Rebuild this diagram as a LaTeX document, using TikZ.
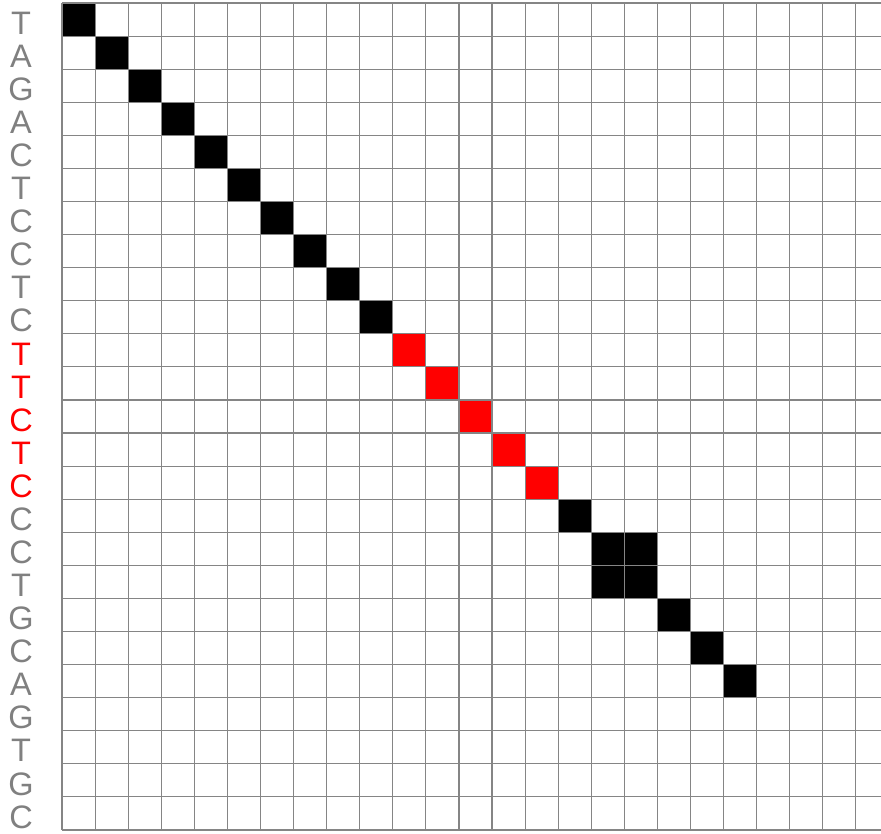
\documentclass[tikz,border=0pt]{standalone}
\usepackage{fontspec}
\setmainfont{Liberation Sans}
\usetikzlibrary{positioning}
\definecolor{gridline}{HTML}{858585}
\definecolor{seqgray}{HTML}{808080}
\definecolor{hit}{HTML}{FF0000}
\begin{document}
\begin{tikzpicture}[
  x=1pt, y=-1pt,
  base/.style={font=\fontsize{32.5}{33}\selectfont, text=seqgray, inner sep=0pt, anchor=center},
  redbase/.style={base, text=hit},
  cellon/.style={fill=black},
  cellhit/.style={fill=hit},
  gridrule/.style={draw=gridline, line width=1.1pt},
]
  \useasboundingbox[fill=white] (0,0) rectangle (881,833);
  \def\cs{33.08}
  % sequence down the left side
  \foreach \b [count=\i from 0] in {T,A,G,A,C,T,C,C,T,C} {
    \node[base] (seq\i) at (21, 3+\i*\cs+\cs/2+3.5) {\b};
  }
  \foreach \b [count=\i from 10] in {T,T,C,T,C} {
    \node[redbase] (seq\i) at (21, 3+\i*\cs+\cs/2+3.5) {\b};
  }
  \foreach \b [count=\i from 15] in {C,C,T,G,C,A,G,T,G,C} {
    \node[base] (seq\i) at (21, 3+\i*\cs+\cs/2+3.5) {\b};
  }
  % matching cells
  \foreach \r/\c in {0/0,1/1,2/2,3/3,4/4,5/5,6/6,7/7,8/8,9/9,15/15,16/16,16/17,17/16,17/17,18/18,19/19,20/20} {
    \fill[cellon] (62+\c*\cs, 3+\r*\cs) rectangle ++(\cs,\cs);
  }
  \foreach \k in {10,...,14} {
    \fill[cellhit] (62+\k*\cs, 3+\k*\cs) rectangle ++(\cs,\cs);
  }
  % grid
  \foreach \k in {0,...,25} {
    \draw[gridrule] (62, 3+\k*\cs) -- (881, 3+\k*\cs);
  }
  \foreach \k in {0,...,24} {
    \draw[gridrule] (62+\k*\cs, 3) -- (62+\k*\cs, 3+25*\cs);
  }
\end{tikzpicture}
\end{document}
